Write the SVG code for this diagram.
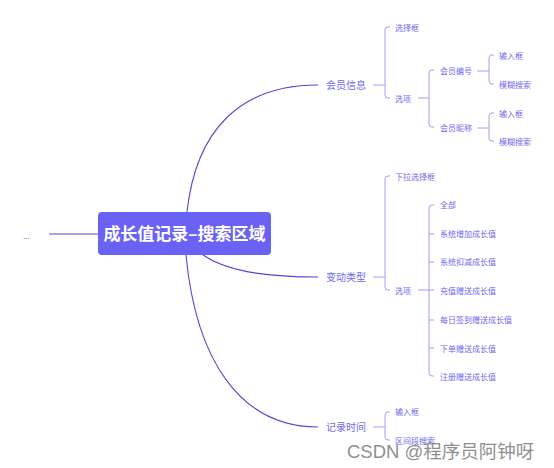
<svg xmlns="http://www.w3.org/2000/svg" width="554" height="468" viewBox="0 0 554 468">
<style>
.main{fill:none;stroke:#5048d4;stroke-width:1.1}
.br{fill:none;stroke:#a39ef4;stroke-width:1}
.l1{font-family:"Noto Sans CJK SC","Noto Sans",sans-serif;font-size:10px;fill:#6f68ee}
.l2{font-family:"Noto Sans CJK SC","Noto Sans",sans-serif;font-size:8px;fill:#6f68ee}
.root{font-family:"Noto Sans CJK SC","Noto Sans",sans-serif;font-size:17px;font-weight:bold;fill:#ffffff}
.wm{font-family:"Liberation Sans","Noto Sans CJK SC",sans-serif;font-size:18.5px;fill:#8f8f8f}
</style>
<rect width="554" height="468" fill="#ffffff"/>
<g id="connectors">
<path class="main" d="M49,234 H98"/>
<path class="main" d="M187,212 C196,130 240,85 318,85"/>
<path class="main" d="M203,255 C225,270 260,277 318,277"/>
<path class="main" d="M186,255 C196,360 240,427 318,427"/>
<path class="br" d="M373,85 H385"/>
<path class="br" d="M390,27 H388 Q385,27 385,30 V95 Q385,98 388,98 H390"/>
<path class="br" d="M418,98 H429"/>
<path class="br" d="M434,70 H432 Q429,70 429,73 V124 Q429,127 432,127 H434"/>
<path class="br" d="M477,71 H489"/>
<path class="br" d="M494,55 H492 Q489,55 489,58 V81 Q489,84 492,84 H494"/>
<path class="br" d="M477,128 H489"/>
<path class="br" d="M494,113 H492 Q489,113 489,116 V138 Q489,141 492,141 H494"/>
<path class="br" d="M373,277 H385"/>
<path class="br" d="M390,176 H388 Q385,176 385,179 V287 Q385,290 388,290 H390"/>
<path class="br" d="M418,290 H434"/>
<path class="br" d="M434,205 H432 Q429,205 429,208 V373 Q429,376 432,376 H434"/>
<path class="br" d="M429,234 H434 M429,262 H434 M429,320 H434 M429,348 H434"/>
<path class="br" d="M373,427 H385"/>
<path class="br" d="M390,412 H388 Q385,412 385,415 V437 Q385,440 388,440 H390"/>
</g>
<g id="ellipsis"><text class="l2" x="23" y="239">...</text></g>
<g id="root">
<rect x="98" y="212" width="173" height="43" rx="4" fill="#6a62f4"/>
<text class="root" x="184.5" y="239.5" text-anchor="middle">成长值记录–搜索区域</text>
</g>
<g id="n-member"><text class="l1" x="326" y="89">会员信息</text></g>
<g id="n-member-select"><text class="l2" x="395" y="31">选择框</text></g>
<g id="n-member-opt"><text class="l2" x="395" y="102">选项</text></g>
<g id="n-member-no"><text class="l2" x="440" y="74">会员编号</text></g>
<g id="n-member-no-input"><text class="l2" x="499" y="59">输入框</text></g>
<g id="n-member-no-fuzzy"><text class="l2" x="499" y="88">模糊搜索</text></g>
<g id="n-member-nick"><text class="l2" x="440" y="131">会员昵称</text></g>
<g id="n-member-nick-input"><text class="l2" x="499" y="117">输入框</text></g>
<g id="n-member-nick-fuzzy"><text class="l2" x="499" y="145">模糊搜索</text></g>
<g id="n-change"><text class="l1" x="326" y="281">变动类型</text></g>
<g id="n-change-dd"><text class="l2" x="395" y="180">下拉选择框</text></g>
<g id="n-change-opt"><text class="l2" x="395" y="294">选项</text></g>
<g id="n-c1"><text class="l2" x="440" y="208">全部</text></g>
<g id="n-c2"><text class="l2" x="440" y="237">系统增加成长值</text></g>
<g id="n-c3"><text class="l2" x="440" y="265">系统扣减成长值</text></g>
<g id="n-c4"><text class="l2" x="440" y="294">充值赠送成长值</text></g>
<g id="n-c5"><text class="l2" x="440" y="323">每日签到赠送成长值</text></g>
<g id="n-c6"><text class="l2" x="440" y="352">下单赠送成长值</text></g>
<g id="n-c7"><text class="l2" x="440" y="380">注册赠送成长值</text></g>
<g id="n-time"><text class="l1" x="326" y="431">记录时间</text></g>
<g id="n-time-input"><text class="l2" x="395" y="415">输入框</text></g>
<g id="n-time-range"><text class="l2" x="395" y="444">区间段搜索</text></g>
<g id="watermark"><text class="wm" x="347" y="458">CSDN @程序员阿钟呀</text></g>
</svg>
